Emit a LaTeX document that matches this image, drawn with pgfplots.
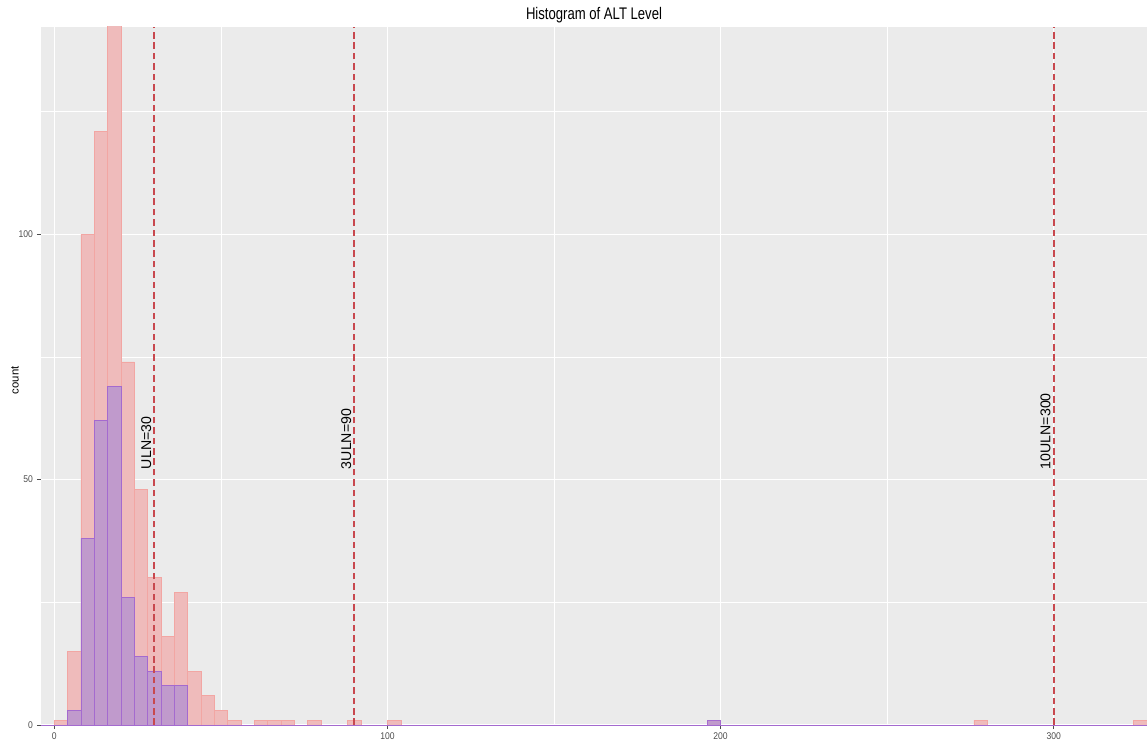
\documentclass[border=0pt]{standalone}
\usepackage{fontspec}
\setmainfont{Liberation Sans}
\newfontfamily\narrowfont{Liberation Sans}[FakeStretch=0.78]
\newfontfamily\ticksfont{Liberation Sans}[FakeStretch=0.88]
\usepackage{pgfplots}
\pgfplotsset{compat=1.18}
\definecolor{panelbg}{HTML}{EBEBEB}
\definecolor{pinkfill}{HTML}{EFBBBB}
\definecolor{pinkline}{HTML}{F2A6A3}
\definecolor{purpfill}{HTML}{C09ACC}
\definecolor{purpline}{HTML}{A46ACF}
\definecolor{vline}{HTML}{C8484E}
\definecolor{tickgray}{HTML}{4D4D4D}
\begin{document}
\begin{tikzpicture}
\begin{axis}[
  name=ax,
  scale only axis,
  width=829.5pt, height=523.5pt,
  xmin=-4, xmax=328, ymin=0, ymax=142.2,
  axis background/.style={fill=panelbg},
  axis line style={draw=none},
  xtick={0,100,200,300}, ytick={0,50,100},
  minor xtick={50,150,250}, minor ytick={25,75,125},
  x tick label as interval=false,
  grid=both,
  major grid style={white, line width=0.8pt},
  minor grid style={white, line width=0.4pt},
  xtick pos=left, ytick pos=left,
  tick align=outside,
  major tick length=3pt, minor tick length=0pt,
  tick style={tickgray, line width=0.6pt},
  /pgf/number format/assume math mode=true,
  ticklabel style={font=\ticksfont\fontsize{7.3}{8}\selectfont, text=tickgray},
  xticklabel style={yshift=1pt},
  yticklabel style={xshift=0.5pt},
  ylabel={count},
  ylabel style={at={(axis description cs:-0.0235,0.494)}, anchor=center, font=\fontsize{8.5}{10}\selectfont},
  title={Histogram of ALT Level},
  every axis title/.style={at={(0.5,1)}, anchor=base, yshift=5.25pt, font=\narrowfont\fontsize{12.6}{14}\selectfont},
  clip=true,
]
% pink series (bin start, count); last point = end
\addplot[ybar interval, fill=pinkfill, draw=pinkline, line width=0.4pt] coordinates {
 (0,1) (4,15) (8,100) (12,121) (16,150) (20,74) (24,48) (28,30) (32,18) (36,27)
 (40,11) (44,6) (48,3) (52,1) (56,0) (60,1) (64,1) (68,1) (72,0) (76,1) (80,0)
 (88,1) (92,0) (100,1) (104,0) (276,1) (280,0) (324,1) (328,0)
};
% purple series
\addplot[ybar interval, fill=purpfill, draw=purpline, line width=0.45pt] coordinates {
 (-4,0) (4,3) (8,38) (12,62) (16,69) (20,26) (24,14) (28,11) (32,8) (36,8)
 (40,0) (196,1) (200,0) (328,0)
};
% reference lines
\addplot[vline, line width=1.15pt, dash pattern=on 5pt off 2.8pt] coordinates {(30,0) (30,142.2)};
\addplot[vline, line width=1.15pt, dash pattern=on 5pt off 2.8pt] coordinates {(90,0) (90,142.2)};
\addplot[vline, line width=1.15pt, dash pattern=on 5pt off 2.8pt] coordinates {(300,0) (300,142.2)};
\node[rotate=90, anchor=west, inner sep=0pt, font=\fontsize{10.6}{12}\selectfont] at (axis cs:27.6,52.1) {ULN=30};
\node[rotate=90, anchor=west, inner sep=0pt, font=\fontsize{10.6}{12}\selectfont] at (axis cs:87.6,52.1) {3ULN=90};
\node[rotate=90, anchor=west, inner sep=0pt, font=\fontsize{10.6}{12}\selectfont] at (axis cs:297.5,52.1) {10ULN=300};
\end{axis}
\pgfresetboundingbox
\path ([xshift=-30.75pt,yshift=-14.25pt]ax.south west) rectangle ([yshift=20.25pt]ax.north east);
\end{tikzpicture}
\end{document}
